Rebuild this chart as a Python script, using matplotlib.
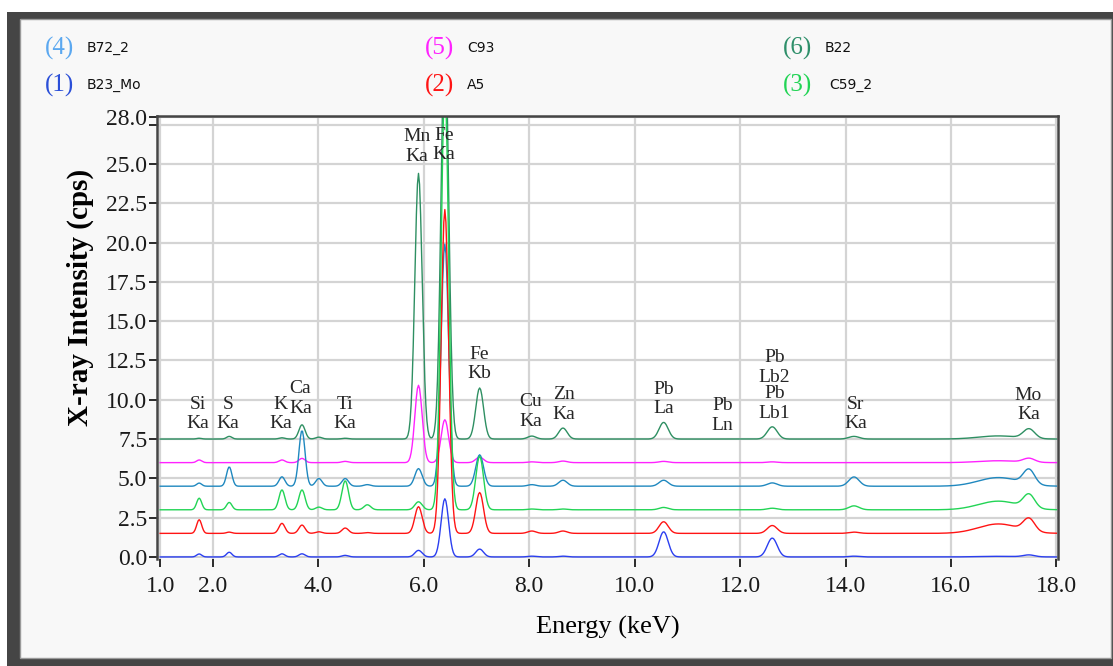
import numpy as np
import matplotlib.pyplot as plt
from matplotlib.patches import Rectangle

# X-ray lines (keV) used to build each spectrum
line_names = ['Si Ka', 'S Ka', 'K Ka', 'Ca Ka', 'Ca Kb', 'Ti Ka', 'Ti Kb', 'Mn Ka',
              'Fe Ka', 'Fe Kb', 'Cu Ka', 'Zn Ka', 'Pb La', 'Pb Lb', 'Sr Ka', 'Mo Ka']
line_kev = [1.74, 2.31, 3.31, 3.69, 4.01, 4.51, 4.93, 5.90,
            6.40, 7.06, 8.05, 8.64, 10.55, 12.61, 14.16, 17.48]

# peak heights above each baseline (cps)
h_B23_Mo = [0.19, 0.30, 0.20, 0.20, 0.00, 0.10, 0.00, 0.42, 3.70, 0.50, 0.05, 0.05, 1.60, 1.20, 0.05, 0.12]
h_A5     = [0.87, 0.08, 0.64, 0.53, 0.10, 0.34, 0.05, 1.70, 20.6, 2.60, 0.15, 0.15, 0.74, 0.50, 0.08, 0.80]
h_C59_2  = [0.74, 0.47, 1.27, 1.27, 0.17, 1.85, 0.32, 0.51, 27.0, 3.40, 0.05, 0.05, 0.15, 0.10, 0.25, 0.85]
h_B72_2  = [0.20, 1.23, 0.60, 3.55, 0.49, 0.49, 0.10, 1.12, 15.4, 2.00, 0.10, 0.38, 0.38, 0.21, 0.59, 0.93]
h_C93    = [0.17, 0.00, 0.17, 0.27, 0.00, 0.08, 0.00, 4.92, 2.73, 0.35, 0.05, 0.10, 0.08, 0.05, 0.00, 0.25]
h_B22    = [0.05, 0.17, 0.08, 0.91, 0.12, 0.05, 0.00, 16.9, 26.0, 3.25, 0.19, 0.70, 1.06, 0.78, 0.17, 0.60]

# broad scatter hump below Mo Ka
scatter_kev = 16.9
scatter_h = [0.04, 0.60, 0.55, 0.55, 0.12, 0.20]

names = ['B23_Mo', 'A5', 'C59_2', 'B72_2', 'C93', 'B22']
numbers = ['(1)', '(2)', '(3)', '(4)', '(5)', '(6)']
offsets = [0.0, 1.5, 3.0, 4.5, 6.0, 7.5]
heights = [h_B23_Mo, h_A5, h_C59_2, h_B72_2, h_C93, h_B22]
line_colors = ['#2b3ff0', '#ff1414', '#22d455', '#1f88bf', '#ff22ff', '#2e8f62']
num_colors = ['#2b4fd8', '#ff1414', '#22d455', '#5ba8f0', '#ff22ff', '#2e8f6a']

# peak labels
label_text = ['Si\nKa', 'S\nKa', 'K\nKa', 'Ca\nKa', 'Ti\nKa', 'Mn\nKa', 'Fe\nKa', 'Fe\nKb',
              'Cu\nKa', 'Zn\nKa', 'Pb\nLa', 'Pb\nLn', 'Pb\nLb2', 'Pb\nLb1', 'Sr\nKa', 'Mo\nKa']
label_x = [1.72, 2.29, 3.29, 3.66, 4.51, 5.87, 6.38, 7.05,
           8.03, 8.65, 10.55, 11.67, 12.65, 12.65, 14.19, 17.47]
label_y = [9.09, 9.09, 9.09, 10.08, 9.09, 26.1, 26.2, 12.27,
           9.25, 9.70, 10.06, 9.0, 12.04, 9.78, 9.09, 9.67]

x_ticks = [1.0, 2.0, 4.0, 6.0, 8.0, 10.0, 12.0, 14.0, 16.0, 18.0]
y_ticks = [0.0, 2.5, 5.0, 7.5, 10.0, 12.5, 15.0, 17.5, 20.0, 22.5, 25.0, 27.5, 28.0]

serif = 'Liberation Serif'

# channel axis and detector resolution
E = np.arange(1.0, 18.0001, 0.02)


def spectrum(hts, sc):
    y = np.zeros_like(E)
    for e0, h in zip(line_kev, hts):
        s = np.sqrt(0.035 ** 2 + 0.0006 * e0)
        y += h * np.exp(-0.5 * ((E - e0) / s) ** 2)
    y += sc * np.exp(-0.5 * ((E - scatter_kev) / 0.38) ** 2)
    return y


W, H = 1113, 666
fig = plt.figure(figsize=(W / 100, H / 100), dpi=100, facecolor='white')

# window frame
fig.patches.append(Rectangle((7 / W, 0), 1106 / W, 654 / H, transform=fig.transFigure,
                             facecolor='#454545', edgecolor='none', zorder=-3))
fig.patches.append(Rectangle((20 / W, 8 / H), 1091 / W, 639 / H, transform=fig.transFigure,
                             facecolor='#f8f8f8', edgecolor='#9a9a9a', lw=1, zorder=-2))

ax = fig.add_axes([157 / W, (H - 559) / H, 901 / W, 443 / H])
ax.set_facecolor('white')

order = [5, 4, 3, 1, 0, 2]
for i in order:
    ax.plot(E, offsets[i] + spectrum(heights[i], scatter_h[i]), color=line_colors[i], lw=1.0)

for t, x, y in zip(label_text, label_x, label_y):
    ax.text(x, y, t, ha='center', va='center', fontsize=14, family=serif,
            color='#262626', linespacing=1.2)

ax.set_xlim(0.94, 18.03)
ax.set_ylim(-0.13, 28.05)
ax.set_xticks(x_ticks)
ax.set_xticklabels(['%.1f' % v for v in x_ticks], family=serif, fontsize=17)
ax.set_yticks(y_ticks)
ax.set_yticklabels(['' if v == 27.5 else '%.1f' % v for v in y_ticks], family=serif, fontsize=17)
ax.tick_params(axis='y', length=6, width=1.3, pad=1, colors='#1a1a1a')
ax.tick_params(axis='x', length=6, width=1.3, pad=6, colors='#1a1a1a')

ax.grid(True, color='#d4d4d4', lw=1.6)
ax.set_axisbelow(True)
for side in ['top', 'left', 'right']:
    ax.spines[side].set_color('#454545')
    ax.spines[side].set_linewidth(1.8)
ax.spines['bottom'].set_visible(False)

ax.set_xlabel('Energy (keV)', family=serif, fontsize=19, labelpad=14)
ax.set_ylabel('X-ray Intensity (cps)', family=serif, fontsize=21, fontweight='bold')
ax.yaxis.set_label_coords(-0.07, 0.59)

# header legend: two rows, three columns
leg_cols = [45, 425, 783]
leg_rows = [48, 85]
leg_layout = [(3, 0, 0), (4, 1, 0), (5, 2, 0), (0, 0, 1), (1, 1, 1), (2, 2, 1)]
for i, c, r in leg_layout:
    fx = leg_cols[c] / W
    fy = 1 - leg_rows[r] / H
    fig.text(fx, fy, numbers[i], color=num_colors[i], family=serif, fontsize=18,
             ha='left', va='center')
    fig.text(fx + (42 if i != 2 else 46) / W, fy, names[i], color='#111111',
             family='DejaVu Sans', fontsize=10, ha='left', va='center')

fig.savefig('out.png', dpi=100, facecolor=fig.get_facecolor())
